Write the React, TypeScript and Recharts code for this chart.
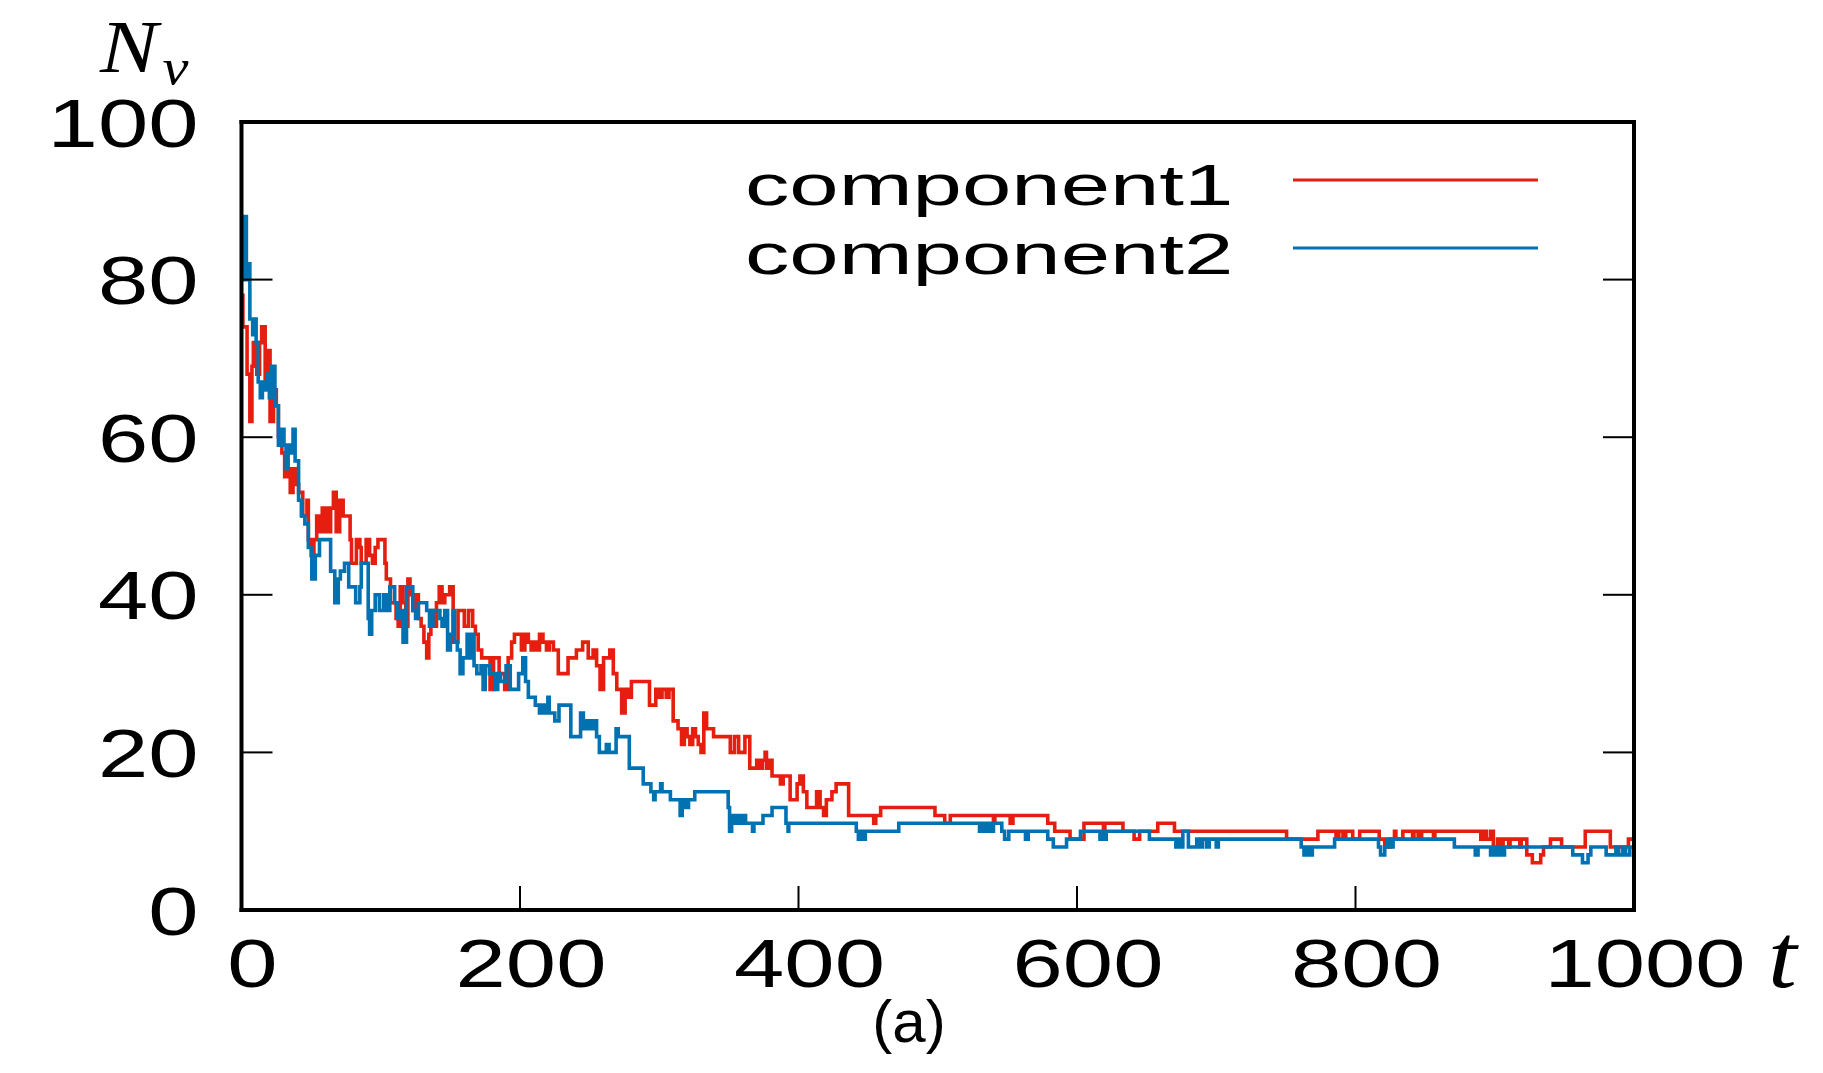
import { Line, LineChart, XAxis, YAxis } from 'recharts';

// N_v(t) for each component, stored as (t, N) change points; drawn as steps
const component1: [number, number][] = [
    [0, 78], [1, 74], [4, 68], [6, 62], [7.5, 69], [8.5, 72], [11, 68], [13, 72], [14.5, 74], [17, 67],
    [19, 71], [20.5, 62], [23, 66], [25, 64], [26.5, 60], [29, 58], [31, 55], [33, 56], [35, 53], [37, 56],
    [39.5, 54], [41, 53], [44, 50], [47, 52], [48, 47], [50, 45], [52, 47], [54, 50], [56, 48], [58, 51],
    [59.5, 48], [61, 51], [62.5, 48], [64, 51], [66, 53], [68, 48], [70.5, 52], [73, 50], [78, 47], [79, 44],
    [82.5, 47], [85, 46], [86, 44], [89.5, 47], [92, 45], [94, 44], [96, 46], [98, 47], [103, 44], [104, 42],
    [107, 39], [111, 37], [112.5, 36], [114, 41], [116, 39], [118, 36], [119.5, 42], [121, 40], [123, 38], [125, 40],
    [127, 37], [129, 36], [131, 34], [133, 32], [134.5, 35], [136, 38], [138, 36], [140, 39], [142, 41], [144, 39],
    [146, 40], [149.5, 41], [152, 34], [155.5, 38], [160, 36], [163, 38], [166, 36], [168, 35], [170, 33], [172.5, 32],
    [178.5, 28], [181, 32], [185, 30], [189, 28], [191.5, 32], [194, 34], [196, 35], [201, 33], [203.5, 35], [206, 34],
    [208, 33], [210, 34], [212, 33], [214, 35], [216.5, 34], [219, 33], [221, 34], [224, 33], [227.5, 30], [234.5, 32],
    [240.5, 33], [245, 34], [249, 32], [252.5, 33], [255, 31], [257.5, 28], [260, 32], [264.5, 33], [267, 30], [269.5, 28],
    [273, 25], [275.5, 28], [278, 27], [280, 29], [293, 26], [297.5, 28], [300, 27], [302, 28], [305, 27], [307, 28],
    [310, 24], [313.5, 23], [316, 21], [318, 23], [320, 22], [322, 21], [324, 23], [326, 22], [328, 21], [330, 20],
    [332, 25], [334, 23], [339, 22], [351, 20], [354, 22], [357, 20], [361.5, 22], [365, 18], [370, 19], [372, 18],
    [374, 19], [376, 20], [377, 18], [379, 19], [381, 17], [387, 16], [389, 17], [394, 14], [399, 16], [401, 17],
    [403.5, 15], [406, 13], [413, 15], [415.5, 13], [418, 12], [420, 14], [424, 15], [427, 16], [436, 12], [454, 11],
    [455.5, 12], [459, 13], [498, 12], [505, 11], [509, 12], [540, 11], [541, 12], [552, 11], [554, 12], [579, 11],
    [584, 10], [595, 9], [605, 11], [619, 10], [620, 11], [633, 10], [641, 9], [645, 10], [658, 11], [670, 10],
    [750.5, 9], [773, 10], [786, 9], [788, 10], [791, 9], [793, 10], [798, 9], [803, 10], [817, 9], [821, 8],
    [825, 9], [828, 10], [829, 9], [834, 10], [841, 9], [842, 10], [845, 9], [847.5, 10], [856, 9], [857, 10],
    [890, 9], [892, 10], [894, 9], [897, 10], [899, 8], [902, 9], [904, 8], [906, 9], [910, 8], [911, 9],
    [918, 8], [919, 9], [923, 7], [927, 6], [933, 7], [935, 8], [940, 9], [948, 8], [965, 10], [983, 8],
    [996, 9], [1000, 9],
];

const component2: [number, number][] = [
    [0, 82], [1, 80], [2, 88], [3.5, 80], [5, 82], [6, 75], [8, 73], [9, 75], [10.5, 72], [12, 67],
    [13.5, 65], [15, 67], [17, 66], [18.5, 68], [20, 65], [21.5, 69], [24, 64], [26.5, 59], [29, 61], [30.5, 59],
    [32, 56], [33.5, 59], [35, 58], [37, 61], [38.5, 57], [41, 52], [43, 50], [45.5, 49], [48, 46], [50.5, 42],
    [53, 45], [56, 47], [64, 43], [67, 39], [69.5, 42], [71, 43], [74, 44], [77, 41], [82, 39], [85, 41],
    [86, 44], [91, 37], [92, 35], [93.5, 38], [96, 40], [99, 38], [102, 40], [104, 38], [106.5, 41], [110, 39],
    [112, 37], [114, 38], [116, 34], [118.5, 41], [123, 38], [125, 37], [127, 39], [133, 38], [135, 36], [137.5, 38],
    [142.5, 37], [144, 36], [146, 38], [148, 33], [150, 35], [152, 38], [153, 34], [155, 33], [157, 30], [159, 32],
    [162, 35], [164, 32], [165, 35], [167, 31], [169, 30], [172, 31], [173.5, 28], [175, 31], [178, 30], [182, 28],
    [184, 30], [186, 29], [190, 31], [193, 28], [199, 30], [202, 32], [204, 29], [206, 27], [211, 26], [214, 25],
    [216, 26], [218, 25], [220, 27], [221, 25], [225, 24], [228, 26], [236.5, 22], [243.5, 25], [245.5, 23], [248, 24],
    [250, 23], [252.5, 24], [255, 22], [257, 20], [262, 21], [264, 20], [269, 23], [270.5, 22], [278.5, 18], [288.5, 16],
    [294, 15], [296, 14], [297, 15], [301, 16], [302, 15], [308, 14], [315, 12], [316.5, 14], [319, 13], [321, 14],
    [325.5, 15], [349.5, 13], [350.5, 10], [352, 12], [354, 11], [356, 12], [358, 11], [360, 12], [362, 11], [367, 10],
    [368, 11], [374.5, 12], [381, 13], [391, 11], [392.5, 10], [393, 11], [441.5, 10], [443, 9], [445, 10], [447, 9],
    [448, 10], [472, 11], [530, 10], [532, 11], [534, 10], [536, 11], [538, 10], [540, 11], [546, 10], [548, 9],
    [551, 10], [563, 9], [565, 10], [579, 9], [583, 8], [592.5, 9], [602.5, 10], [616.5, 9], [618, 10], [620, 9],
    [621, 10], [652, 9], [671, 8], [673, 9], [674, 8], [676, 10], [680, 8], [686, 9], [688, 8], [690, 9],
    [693, 8], [695, 9], [700, 8], [701.5, 9], [761, 8], [763, 7], [765, 8], [767, 7], [769, 8], [785, 9],
    [816.5, 8], [818, 7], [821, 8], [823, 9], [825, 8], [827, 9], [871, 8], [886, 7], [888, 8], [897, 7],
    [899, 8], [901, 7], [903, 8], [905, 7], [907, 8], [956, 7], [963, 6], [967, 7], [969, 8], [980, 7],
    [987, 8], [989, 7], [992, 8], [994, 7], [997, 8], [1000, 8],
];

const seriesNames = ['component1', 'component2'];
const seriesColors = ['#e51e10', '#0072b2'];
const xTicks = [0, 200, 400, 600, 800, 1000];
const yTicks = [0, 20, 40, 60, 80, 100];

const toPoints = (s: [number, number][]) => s.map(([t, n]) => ({ t, n }));
const series = [component1, component2].map(toPoints);

const W = 1823;
const H = 1073;
const plot = { left: 241.5, right: 1634, top: 122, bottom: 910 };
const labelFont = '"Liberation Sans", Arial, Helvetica, sans-serif';
const mathFont = '"Liberation Serif", "Times New Roman", serif';
const stretch = 1.33;

// inward tick marks on all four sides, labels only on bottom and left
const BottomTick = ({ x, y, payload }: any) => (
    <g>
        <line x1={x} y1={y} x2={x} y2={y - 24} stroke="#000" strokeWidth={2} />
        <text
            transform={`translate(${x + 11},${y + 77}) scale(${stretch},1)`}
            textAnchor="middle"
            fontFamily={labelFont}
            fontSize={68}
            fill="#000"
        >
            {payload.value}
        </text>
    </g>
);

const TopTick = ({ x, y }: any) => <line x1={x} y1={y} x2={x} y2={y + 24} stroke="#000" strokeWidth={2} />;

const LeftTick = ({ x, y, payload }: any) => (
    <g>
        <line x1={x} y1={y} x2={x + 31} y2={y} stroke="#000" strokeWidth={2} />
        <text
            transform={`translate(${x - 43},${y + 24.5}) scale(${stretch},1)`}
            textAnchor="end"
            fontFamily={labelFont}
            fontSize={68}
            fill="#000"
        >
            {payload.value}
        </text>
    </g>
);

const RightTick = ({ x, y }: any) => <line x1={x} y1={y} x2={x - 31} y2={y} stroke="#000" strokeWidth={2} />;

const frame = { stroke: '#000', strokeWidth: 4, strokeLinecap: 'square' as const };

// axes need a non-zero size to be drawn, so each one takes a single pixel of margin
export default function App() {
    return (
        <div style={{ position: 'absolute', left: 0, top: 0, width: W, height: H, background: '#fff' }}>
            <LineChart
                width={W}
                height={H}
                margin={{
                    top: plot.top - 1,
                    right: W - plot.right - 1,
                    bottom: H - plot.bottom - 1,
                    left: plot.left - 1,
                }}
            >
                <XAxis
                    dataKey="t"
                    type="number"
                    domain={[0, 1000]}
                    ticks={xTicks}
                    allowDataOverflow
                    height={1}
                    tickSize={0}
                    tickMargin={0}
                    axisLine={frame}
                    tickLine={false}
                    tick={<BottomTick />}
                    interval={0}
                />
                <XAxis
                    xAxisId="top"
                    orientation="top"
                    type="number"
                    domain={[0, 1000]}
                    ticks={xTicks}
                    allowDataOverflow
                    height={1}
                    tickSize={0}
                    tickMargin={0}
                    axisLine={frame}
                    tickLine={false}
                    tick={<TopTick />}
                    interval={0}
                />
                <YAxis
                    type="number"
                    domain={[0, 100]}
                    ticks={yTicks}
                    allowDataOverflow
                    width={1}
                    tickSize={0}
                    tickMargin={0}
                    axisLine={frame}
                    tickLine={false}
                    tick={<LeftTick />}
                    interval={0}
                />
                <YAxis
                    yAxisId="right"
                    orientation="right"
                    type="number"
                    domain={[0, 100]}
                    ticks={yTicks}
                    allowDataOverflow
                    width={1}
                    tickSize={0}
                    tickMargin={0}
                    axisLine={frame}
                    tickLine={false}
                    tick={<RightTick />}
                    interval={0}
                />
                {series.map((data, i) => (
                    <Line
                        key={seriesNames[i]}
                        name={seriesNames[i]}
                        data={data}
                        dataKey="n"
                        type="stepAfter"
                        stroke={seriesColors[i]}
                        strokeWidth={3.6}
                        dot={false}
                        activeDot={false}
                        isAnimationActive={false}
                    />
                ))}
            </LineChart>
            <svg
                width={W}
                height={H}
                style={{ position: 'absolute', left: 0, top: 0, pointerEvents: 'none' }}
            >
                {/* axis titles; N_v is one text with a lowered subscript */}
                <text transform="translate(100,72) scale(1.17,1)" fontFamily={mathFont} fontStyle="italic" fontSize={74}>
                    N
                    <tspan dx={4} dy={12} fontSize={50}>
                        v
                    </tspan>
                </text>
                <text transform="translate(1768,987) scale(1.15,1)" fontFamily={mathFont} fontStyle="italic" fontSize={90}>
                    t
                </text>
                <text x={909} y={1042} textAnchor="middle" fontFamily={labelFont} fontSize={60}>
                    (a)
                </text>
                {/* key */}
                {seriesNames.map((name, i) => (
                    <g key={name}>
                        <text
                            transform={`translate(745,${205 + i * 69}) scale(1.53,1)`}
                            fontFamily={labelFont}
                            fontSize={58}
                        >
                            {name}
                        </text>
                        <line
                            x1={1293}
                            x2={1538}
                            y1={180 + i * 68}
                            y2={180 + i * 68}
                            stroke={seriesColors[i]}
                            strokeWidth={3}
                        />
                    </g>
                ))}
            </svg>
        </div>
    );
}
